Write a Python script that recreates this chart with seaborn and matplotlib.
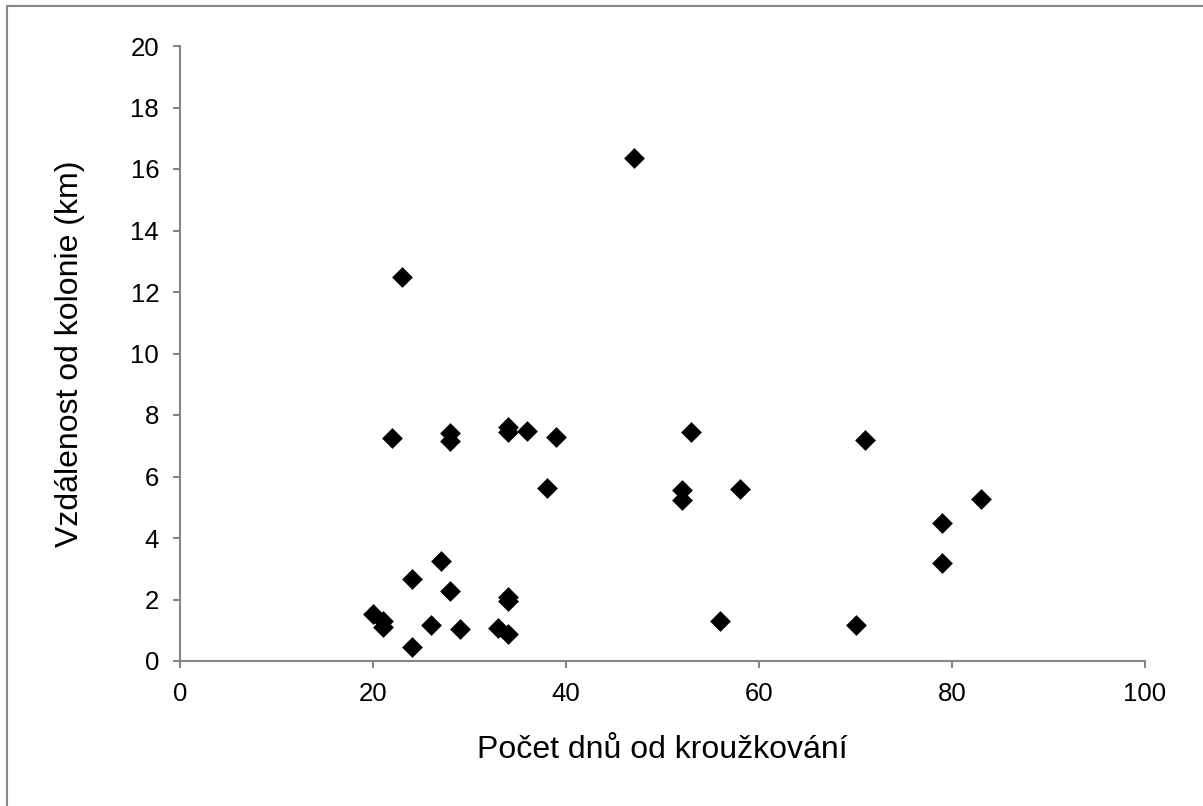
import matplotlib
matplotlib.use("Agg")
import matplotlib.pyplot as plt
import seaborn as sns
import pandas as pd
from matplotlib.patches import Rectangle

# Days since ringing and distance from the colony for each recovered bird
days = [20, 21, 21, 22, 23, 24, 24, 26, 27, 28, 28, 28, 29, 33,
        34, 34, 34, 34, 34, 36, 38, 39, 47, 52, 52, 53, 56, 58,
        70, 71, 79, 79, 83]
distance_km = [1.54, 1.3, 1.12, 7.25, 12.5, 2.68, 0.46, 1.17, 3.25, 7.4, 7.15, 2.29, 1.03, 1.06,
               7.6, 7.45, 2.08, 1.95, 0.88, 7.47, 5.63, 7.3, 16.35, 5.57, 5.25, 7.45, 1.3, 5.58,
               1.17, 7.2, 4.5, 3.18, 5.26]

x_ticks = [0, 20, 40, 60, 80, 100]
y_ticks = [0, 2, 4, 6, 8, 10, 12, 14, 16, 18, 20]
x_label = "Počet dnů od kroužkování"
y_label = "Vzdálenost od kolonie (km)"

df = pd.DataFrame({"days": days, "distance": distance_km})

sns.set_theme(style="white")
plt.rcParams["font.family"] = ["Liberation Sans", "DejaVu Sans"]

fig = plt.figure(figsize=(12.03, 8.06), dpi=100)
ax = fig.add_axes([180 / 1203, 1 - 661 / 806, (1145 - 180) / 1203, (661 - 46) / 806])

sns.scatterplot(data=df, x="days", y="distance", ax=ax, marker="D",
                s=112, color="black", linewidth=0, zorder=3)

axis_grey = "#868686"
ax.set_xlim(0, 100)
ax.set_ylim(0, 20)
ax.set_xticks(x_ticks)
ax.set_yticks(y_ticks)
ax.set_xticklabels([str(v) for v in x_ticks])
ax.set_yticklabels([str(v) for v in y_ticks])
for side in ("top", "right"):
    ax.spines[side].set_visible(False)
for side in ("left", "bottom"):
    ax.spines[side].set_color(axis_grey)
    ax.spines[side].set_linewidth(1.5)
ax.tick_params(axis="both", which="major", direction="out", length=5, width=1.5,
               color=axis_grey, labelsize=18.5, labelcolor="black", pad=10,
               left=True, bottom=True)
ax.grid(False)

ax.set_xlabel(x_label, fontsize=23, color="black", labelpad=21)
ax.set_ylabel(y_label, fontsize=23, color="black", labelpad=33)

# Thin grey frame around the chart area
fig.patches.append(Rectangle((7 / 1203, -0.1), 1.2, 1 - 6 / 806 + 0.1,
                             transform=fig.transFigure, fill=False,
                             edgecolor=axis_grey, linewidth=1.5))

fig.savefig("out.png", dpi=100, facecolor="white")
